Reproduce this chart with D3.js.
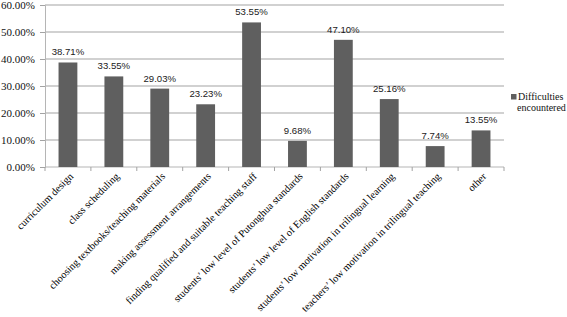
<!DOCTYPE html>
<html>
<head>
<meta charset="utf-8">
<script src="https://cdn.jsdelivr.net/npm/d3@7"></script>
<style>
  body { margin: 0; background: #fff; }
  svg { display: block; }
</style>
</head>
<body>
<div id="chart"></div>
<script>
// categories and values
const categories = [
    "curriculum design",
    "class scheduling",
    "choosing textbooks/teaching materials",
    "making assessment arrangements",
    "finding qualified and suitable teaching staff",
    "students\u2019 low level of Putonghua standards",
    "students\u2019 low level of English standards",
    "students\u2019 low motivation in trilingual learning",
    "teachers\u2019 low motivation in trilingual teaching",
    "other"
];
const values = [38.71, 33.55, 29.03, 23.23, 53.55, 9.68, 47.10, 25.16, 7.74, 13.55];
const yTicks = [0, 10, 20, 30, 40, 50, 60];
const seriesName = ["Difficulties", "encountered"];

let margin = {top: 5, right: 63, bottom: 150, left: 45};
let width = 567 - margin.left - margin.right,
    height = 317 - margin.top - margin.bottom;

let svg = d3.select("#chart").append("svg")
    .attr("width", 567)
    .attr("height", 317)
    .append("g")
    .attr("transform", "translate(" + margin.left + "," + margin.top + ")");

let xScale = d3.scaleBand()
    .domain(categories)
    .range([0, width])
    .paddingInner(0.59)
    .paddingOuter(0.295);

let yScale = d3.scaleLinear()
    .domain([0, 60])
    .range([height, 0]);

// gridlines
svg.append("g")
    .selectAll("line")
    .data(yTicks.slice(1))
    .enter()
    .append("line")
    .attr("x1", 0)
    .attr("x2", width)
    .attr("y1", d => yScale(d))
    .attr("y2", d => yScale(d))
    .attr("stroke", "#a3a3a3")
    .attr("stroke-width", 1);

// y axis
let yAxis = svg.append("g")
    .call(d3.axisLeft(yScale).tickValues(yTicks).tickSize(5).tickPadding(5)
        .tickFormat(d => d.toFixed(2) + "%"));
yAxis.select(".domain").attr("stroke", "#b5b5b5");
yAxis.selectAll(".tick line").attr("stroke", "#a3a3a3");
yAxis.selectAll("text")
    .attr("font-family", "Liberation Serif, serif")
    .attr("font-size", "11px")
    .attr("fill", "#111");

// x axis (ticks at category boundaries)
let step = xScale.step();
let xAxis = svg.append("g")
    .attr("transform", "translate(0," + height + ")");
xAxis.append("line")
    .attr("x1", 0).attr("x2", width)
    .attr("stroke", "#b5b5b5");
xAxis.selectAll(".xt")
    .data(d3.range(categories.length + 1))
    .enter()
    .append("line")
    .attr("class", "xt")
    .attr("x1", d => d * step)
    .attr("x2", d => d * step)
    .attr("y1", 0)
    .attr("y2", 4)
    .attr("stroke", "#a3a3a3");

// category labels, rotated
xAxis.selectAll(".xl")
    .data(categories)
    .enter()
    .append("text")
    .attr("class", "xl")
    .attr("text-anchor", "end")
    .attr("font-family", "Liberation Serif, serif")
    .attr("font-size", "10.4px")
    .attr("fill", "#000")
    .attr("transform", d => "translate(" + (xScale(d) + xScale.bandwidth() / 2 + 6) + ",10) rotate(-45)")
    .text(d => d);

// bars
svg.append("g")
    .selectAll("rect")
    .data(values)
    .enter()
    .append("rect")
    .attr("x", (d, i) => xScale(categories[i]))
    .attr("y", d => yScale(d))
    .attr("width", xScale.bandwidth())
    .attr("height", d => height - yScale(d))
    .attr("fill", "#5f5f5f");

// value labels
svg.append("g")
    .selectAll("text")
    .data(values)
    .enter()
    .append("text")
    .attr("x", (d, i) => xScale(categories[i]) + xScale.bandwidth() / 2)
    .attr("y", d => yScale(d) - 7)
    .attr("text-anchor", "middle")
    .attr("font-family", "Liberation Sans, Arial, sans-serif")
    .attr("font-size", "9.6px")
    .attr("fill", "#1a1a1a")
    .text(d => d.toFixed(2) + "%");

// legend
let legend = svg.append("g")
    .attr("transform", "translate(" + (width + 7) + ",89)");
legend.append("rect")
    .attr("width", 5.5)
    .attr("height", 5.5)
    .attr("fill", "#5f5f5f");
legend.selectAll("text")
    .data(seriesName)
    .enter()
    .append("text")
    .attr("x", (d, i) => i === 0 ? 7 : 6)
    .attr("y", (d, i) => 6 + i * 10.5)
    .attr("font-family", "Liberation Serif, serif")
    .attr("font-size", "10px")
    .attr("fill", "#111")
    .text(d => d);
</script>
</body>
</html>
